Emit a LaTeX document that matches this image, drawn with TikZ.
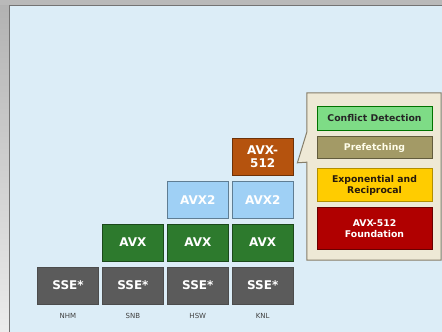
\documentclass[tikz,border=0pt]{standalone}
\usepackage{fontspec}
\setmainfont{DejaVu Sans}
\usetikzlibrary{positioning}
\usetikzlibrary{calc}

\definecolor{slidebg}{HTML}{DCEDF7}
\definecolor{ssegray}{HTML}{5B5B5B}
\definecolor{avxgreen}{HTML}{2D7A2D}
\definecolor{avxblue}{HTML}{9FD0F5}
\definecolor{knlbrown}{HTML}{B5530E}
\definecolor{panelbg}{HTML}{EEE9D6}
\definecolor{panelline}{HTML}{857D68}
\definecolor{cdgreen}{HTML}{7EDC86}
\definecolor{pfolive}{HTML}{A39A66}
\definecolor{ergold}{HTML}{FFCC00}
\definecolor{fdred}{HTML}{B00000}

\tikzset{
  box/.style     = { rectangle, minimum width=61pt, minimum height=37pt, inner sep=1pt,
                     align=center, font=\fontsize{12}{13}\selectfont\bfseries, text=white },
  sse/.style     = { box, fill=ssegray,  draw=black!70 },
  avx/.style     = { box, fill=avxgreen, draw=avxgreen!60!black },
  avxtwo/.style  = { box, fill=avxblue,  draw=avxblue!60!black, text=white },
  knl/.style     = { box, fill=knlbrown, draw=knlbrown!60!black },
  cpu/.style     = { font=\fontsize{7}{8}\selectfont, text=black!75 },
  feature/.style = { rectangle, minimum width=115pt, inner sep=1pt, align=center,
                     font=\fontsize{9.3}{11}\selectfont\bfseries, line width=0.8pt },
  callout/.style = { fill=panelbg, draw=panelline, line width=1pt }
}

\begin{document}
\begin{tikzpicture}[
  node distance=5.5pt and 3.5pt
]
  \useasboundingbox (0,0) rectangle (442pt,332pt);

  % slide frame and background
  \fill[gray!55] (0,0) rectangle (442pt,332pt);
  \shade[top color=gray!60,bottom color=gray!15] (0,0) rectangle (9pt,326pt);
  \fill[slidebg] (10pt,0) rectangle (442pt,326pt);
  \draw[black!55,line width=1pt] (9.5pt,0) -- (9.5pt,326.5pt) -- (442pt,326.5pt);

  % bottom row
  \node (nhmsse) [sse] at (68pt,46.5pt) {SSE*};
  \node (snbsse) [sse,right=of nhmsse]  {SSE*};
  \node (hswsse) [sse,right=of snbsse]  {SSE*};
  \node (knlsse) [sse,right=of hswsse]  {SSE*};

  % upper rows
  \node (snbavx) [avx,above=of snbsse]  {AVX};
  \node (hswavx) [avx,above=of hswsse]  {AVX};
  \node (knlavx) [avx,above=of knlsse]  {AVX};
  \node (hswtwo) [avxtwo,above=of hswavx] {AVX2};
  \node (knltwo) [avxtwo,above=of knlavx] {AVX2};
  \node (knl512) [knl,above=of knltwo]  {AVX-\\512};

  % core names
  \node (nhm) [cpu,below=6pt of nhmsse] {NHM};
  \node (snb) [cpu,below=6pt of snbsse] {SNB};
  \node (hsw) [cpu,below=6pt of hswsse] {HSW};
  \node (knl) [cpu,below=6pt of knlsse] {KNL};

  % AVX-512 breakdown
  \node (panel) [minimum width=134pt,minimum height=167pt] at (374pt,155.5pt) {};
  \coordinate (tip) at ([xshift=4pt,yshift=-6pt]knl512.east);
  \draw[callout] (panel.north west) -- (panel.north east) -- (panel.south east)
    -- (panel.south west) -- ([yshift=98pt]panel.south west) -- (tip)
    -- ([yshift=128pt]panel.south west) -- cycle;

  \node (cd) [feature,minimum height=24pt,fill=cdgreen,draw=green!45!black,text=black!85]
    at (374.5pt,214pt) {Conflict Detection};
  \node (pf) [feature,minimum height=22pt,fill=pfolive,draw=pfolive!60!black,text=white!92!yellow,
    below=6pt of cd] {Prefetching};
  \node (er) [feature,minimum height=33pt,fill=ergold,draw=ergold!70!black,text=black!80!brown,
    below=9pt of pf] {Exponential and\\Reciprocal};
  \node (fd) [feature,minimum height=42pt,fill=fdred,draw=fdred!60!black,text=white,
    below=5pt of er] {AVX-512\\Foundation};

\end{tikzpicture}
\end{document}
